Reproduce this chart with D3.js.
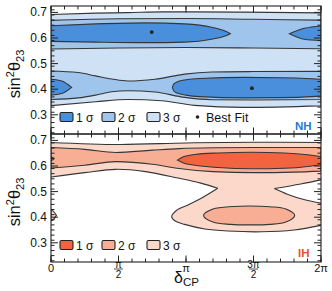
<!DOCTYPE html>
<html><head><meta charset="utf-8">
<script src="https://cdn.jsdelivr.net/npm/d3@7"></script>
<style>body{margin:0;background:#fff}svg{display:block}text{font-family:"Liberation Sans",Arial,sans-serif;fill:#111}</style>
</head><body><svg id="c" width="332" height="291"></svg>
<script>
// δ_CP in units of π, sin²θ23 values
// NH bands: [δ, lower, upper]
const nh3Band = [[0,0.336,0.692],[0.33,0.351,0.697],[0.57,0.360,0.699],[0.82,0.355,0.702],[1.06,0.337,0.702],[1.43,0.329,0.701],[2,0.335,0.698]];
const nh2Upper = [[0,0.557,0.669],[0.5,0.561,0.675],[1,0.563,0.676],[1.5,0.561,0.673],[2,0.558,0.670]];
const nh2Lower = [[0,0.360,0.471],[0.2,0.366,0.465],[0.33,0.377,0.452],[0.45,0.390,0.440],[0.57,0.394,0.432],[0.77,0.389,0.439],[0.99,0.368,0.459],[1.19,0.359,0.467],[1.5,0.358,0.469],[2,0.360,0.470]];
const nh1UpperA = [[0,0.587,0.648],[0.33,0.584,0.655],[0.7,0.582,0.659],[0.99,0.584,0.655],[1.19,0.595,0.642],[1.29,0.608,0.627],[1.328,0.617,0.617]];
const nh1UpperB = [[1.766,0.617,0.617],[1.877,0.595,0.638],[2,0.590,0.647]];
const nh1LowerA = [[0,0.377,0.439],[0.08,0.383,0.432],[0.153,0.407,0.407]];
const nh1LowerB = [[0.899,0.407,0.407],[0.91,0.393,0.421],[0.94,0.384,0.430],[1.0,0.377,0.437],[1.1,0.371,0.442],[1.43,0.366,0.446],[1.7,0.367,0.445],[1.93,0.371,0.441],[2,0.374,0.439]];
const nhBest = [[0.746,0.623],[1.488,0.404]];

// IH boundaries
const ih3Top = [[0,0.692],[0.5,0.684],[1,0.690],[1.5,0.693],[2,0.692]];
const ih3LeftLow = [[0,0.557],[0.25,0.574],[0.48,0.587],[0.7,0.578],[0.94,0.553],[1.11,0.533],[1.235,0.513]];
const ih3LowerLoop = [[1.235,0.513],[1.113,0.474],[1.015,0.448],[0.929,0.426],[0.894,0.402],[0.92,0.385],[0.99,0.372],[1.14,0.354],[1.31,0.346],[1.56,0.343],[1.8,0.350],[2,0.368]];
const ih3RightUp = [[2,0.546],[1.85,0.530],[1.655,0.512]];
const ih3RightLow = [[1.655,0.512],[1.75,0.490],[1.88,0.468],[2,0.455]];
const ih3Bump = [[0,0.386,0.428],[0.02,0.392,0.422],[0.04,0.407,0.407]];
const ih2Band = [[0,0.592,0.672],[0.25,0.603,0.665],[0.48,0.617,0.653],[0.75,0.607,0.662],[0.95,0.590,0.668],[1.2,0.578,0.671],[1.5,0.574,0.672],[1.8,0.576,0.672],[2,0.580,0.672]];
const ih2Island = [[1.13,0.407],[1.2,0.432],[1.35,0.442],[1.47,0.444],[1.62,0.441],[1.74,0.432],[1.805,0.407],[1.74,0.381],[1.62,0.372],[1.47,0.370],[1.33,0.372],[1.2,0.381]];
const ih1Big = [[0.936,0.623,0.623],[0.98,0.612,0.636],[1.064,0.603,0.645],[1.236,0.594,0.651],[1.483,0.589,0.654],[1.729,0.591,0.651],[1.901,0.598,0.644],[2,0.606,0.637]];
const ih1Sliver = [[0,0.621,0.636],[0.012,0.624,0.633],[0.022,0.628,0.628]];

// ticks
const xMajor = [0,0.5,1,1.5,2];
const xLabels = [["0"],["π","2"],["π"],["3π","2"],["2π"]];
const xMinor = d3.range(0,2.0001,0.1);
const yMajor = [0.3,0.4,0.5,0.6,0.7];
const yMinor = d3.range(0.23,0.7201,0.02);
const legendNH = ["1 σ","2 σ","3 σ"];
const colNH = ["#4a8fdb","#9fc5ec","#cfe1f5"];
const colIH = ["#f26440","#f8ae95","#fcd8cb"];
const LINE = "#363636";

const svg = d3.select("#c");
const X0=51, X1=321;
const x = d3.scaleLinear().domain([0,2]).range([X0,X1]);
const panels = [{top:6,bot:134,id:"nh"},{top:134,bot:262,id:"ih"}];
panels.forEach(p=>{p.y=d3.scaleLinear().domain([0.225,0.725]).range([p.bot,p.top]);});

const defs = svg.append("defs");
panels.forEach(p=>{
  defs.append("clipPath").attr("id","clip-"+p.id).append("rect")
    .attr("x",X0).attr("y",p.top).attr("width",X1-X0).attr("height",p.bot-p.top);
});

function areaGen(y){return d3.area().x(d=>x(d[0])).y0(d=>y(d[1])).y1(d=>y(d[2])).curve(d3.curveMonotoneX);}
function lineGen(y){return d3.line().x(d=>x(d[0])).y(d=>y(d[1])).curve(d3.curveCatmullRom);}

// NH panel
{
  const p=panels[0], y=p.y, g=svg.append("g").attr("clip-path","url(#clip-nh)");
  const A=areaGen(y);
  const draw=(data,c)=>g.append("path").attr("d",A(data)).attr("fill",c).attr("stroke",LINE).attr("stroke-width",1.1);
  draw(nh3Band,colNH[2]);
  draw(nh2Upper,colNH[1]); draw(nh2Lower,colNH[1]);
  draw(nh1UpperA,colNH[0]); draw(nh1UpperB,colNH[0]);
  draw(nh1LowerA,colNH[0]); draw(nh1LowerB,colNH[0]);
  g.selectAll("circle.bf").data(nhBest).join("circle").attr("class","bf")
   .attr("cx",d=>x(d[0])).attr("cy",d=>y(d[1])).attr("r",1.9).attr("fill","#222");
}
// IH panel
{
  const p=panels[1], y=p.y, g=svg.append("g").attr("clip-path","url(#clip-ih)");
  const A=areaGen(y), L=lineGen(y);
  const rev=a=>a.slice().reverse();
  const cont=s=>s.replace(/^M/,"L");
  const fill3 = L(ih3Top)+cont(L(ih3RightUp))+cont(L(ih3RightLow))+"L"+x(2.02)+","+y(0.455)+"L"+x(2.02)+","+y(0.368)+cont(L(rev(ih3LowerLoop)))+cont(L(rev(ih3LeftLow)))+"Z";
  g.append("path").attr("d",fill3).attr("fill",colIH[2]).attr("stroke","none");
  [ih3Top,ih3LeftLow,ih3LowerLoop,ih3RightUp,ih3RightLow].forEach(s=>
    g.append("path").attr("d",L(s)).attr("fill","none").attr("stroke",LINE).attr("stroke-width",1.1));
  g.append("path").attr("d",A(ih3Bump)).attr("fill",colIH[2]).attr("stroke",LINE).attr("stroke-width",1.1);
  g.append("path").attr("d",A(ih2Band)).attr("fill",colIH[1]).attr("stroke",LINE).attr("stroke-width",1.1);
  g.append("path").attr("d",d3.line().x(d=>x(d[0])).y(d=>y(d[1])).curve(d3.curveCatmullRomClosed)(ih2Island))
    .attr("fill",colIH[1]).attr("stroke",LINE).attr("stroke-width",1.1);
  g.append("path").attr("d",A(ih1Big)).attr("fill",colIH[0]).attr("stroke",LINE).attr("stroke-width",1.1);
  g.append("path").attr("d",A(ih1Sliver)).attr("fill",colIH[0]).attr("stroke",LINE).attr("stroke-width",1.1);
}

// frames & ticks
panels.forEach(p=>{
  const y=p.y, g=svg.append("g");
  const tk=(vals,len,fn)=>vals.forEach(v=>fn(v,len));
  const xt=(v,len)=>{
    g.append("line").attr("x1",x(v)).attr("x2",x(v)).attr("y1",p.bot).attr("y2",p.bot-len).attr("stroke","#222");
    g.append("line").attr("x1",x(v)).attr("x2",x(v)).attr("y1",p.top).attr("y2",p.top+len).attr("stroke","#222");
  };
  tk(xMinor,3.5,xt); tk(xMajor,6.5,xt);
  const yt=(v,len)=>{
    g.append("line").attr("x1",X0).attr("x2",X0+len).attr("y1",y(v)).attr("y2",y(v)).attr("stroke","#222");
    g.append("line").attr("x1",X1).attr("x2",X1-len).attr("y1",y(v)).attr("y2",y(v)).attr("stroke","#222");
  };
  tk(yMinor,3.5,yt); tk(yMajor,7,yt);
  g.append("rect").attr("x",X0).attr("y",p.top).attr("width",X1-X0).attr("height",p.bot-p.top)
   .attr("fill","none").attr("stroke","#222").attr("stroke-width",1.1);
  yMajor.forEach(v=>g.append("text").attr("x",47).attr("y",y(v)+4).attr("text-anchor","end")
    .attr("font-size",12).text(v.toFixed(1)));
  // y title
  const t=g.append("text").attr("transform",`translate(20,${(p.top+p.bot)/2+4}) rotate(-90)`)
    .attr("text-anchor","middle").attr("font-size",16.5);
  t.append("tspan").text("sin");
  t.append("tspan").attr("dy",-6).attr("font-size",11).text("2");
  t.append("tspan").attr("dy",6).text("θ");
  t.append("tspan").attr("dy",4).attr("font-size",11).text("23");
});

// legends
function legend(p,cols,extra){
  const g=svg.append("g");
  const y=p.bot-17;
  const xs=[60,102,147];
  legendNH.forEach((lab,i)=>{
    g.append("rect").attr("x",xs[i]).attr("y",y-4.5).attr("width",13).attr("height",9).attr("rx",1.5)
      .attr("fill",cols[i]).attr("stroke","#222").attr("stroke-width",1.1);
    g.append("text").attr("x",xs[i]+16).attr("y",y+4.5).attr("font-size",12).text(lab);
  });
  if(extra){
    g.append("circle").attr("cx",197.5).attr("cy",y).attr("r",1.8).attr("fill","#222");
    g.append("text").attr("x",206).attr("y",y+4.5).attr("font-size",12.5).text("Best Fit");
  }
}
legend(panels[0],colNH,true);
legend(panels[1],colIH,false);
svg.append("text").attr("x",295).attr("y",130).attr("font-size",11.5).attr("font-weight","bold").style("fill","#2a78d6").text("NH");
svg.append("text").attr("x",298).attr("y",257).attr("font-size",11.5).attr("font-weight","bold").style("fill","#e8502a").text("IH");

// x tick labels
xMajor.forEach((v,i)=>{
  const lab=xLabels[i], cx=x(v);
  if(lab.length===1){
    svg.append("text").attr("x",cx).attr("y",271.5).attr("text-anchor","middle").attr("font-size",11).text(lab[0]);
  } else {
    svg.append("text").attr("x",cx).attr("y",267.5).attr("text-anchor","middle").attr("font-size",10).text(lab[0]);
    svg.append("line").attr("x1",cx-4.5).attr("x2",cx+4.5).attr("y1",269).attr("y2",269).attr("stroke","#222").attr("stroke-width",0.8);
    svg.append("text").attr("x",cx).attr("y",277.5).attr("text-anchor","middle").attr("font-size",10).text(lab[1]);
  }
});
// x title
const xt=svg.append("text").attr("x",174).attr("y",283).attr("font-size",16);
xt.append("tspan").text("δ");
xt.append("tspan").attr("dy",3).attr("font-size",11.5).text("CP");
</script></body></html>
